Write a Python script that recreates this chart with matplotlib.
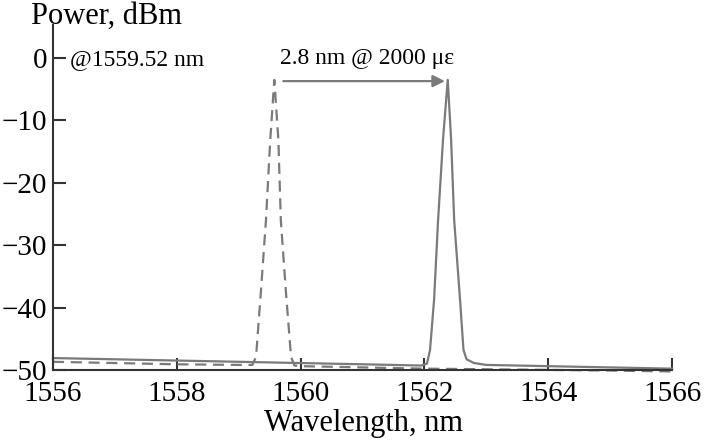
import matplotlib.pyplot as plt

# Опорный спектр (без деформации), пик @1559.52 нм
wl_ref = [1556.0, 1557.0, 1558.0, 1559.0, 1559.22, 1559.28, 1559.36, 1559.44, 1559.51,
          1559.575, 1559.64, 1559.68, 1559.76, 1559.845, 1559.9, 1560.0, 1561.0, 1562.0,
          1563.0, 1564.0, 1565.0, 1566.0]
p_ref = [-48.7, -48.9, -49.1, -49.2, -49.2, -47.9, -37.2, -26.0, -13.0,
         -3.5, -13.0, -26.0, -37.2, -47.9, -49.3, -49.4, -49.6, -49.8,
         -49.9, -50.0, -50.1, -50.25]

# Спектр при деформации 2000 мкε
wl_strain = [1556.0, 1557.0, 1558.0, 1559.0, 1560.0, 1561.0, 1561.95, 1562.04, 1562.09,
             1562.155, 1562.22, 1562.30, 1562.376, 1562.43, 1562.48, 1562.575, 1562.63,
             1562.68, 1562.8, 1563.0, 1564.0, 1565.0, 1566.0]
p_strain = [-48.1, -48.3, -48.5, -48.7, -48.9, -49.1, -49.3, -49.0, -46.8,
            -38.8, -26.0, -13.0, -3.5, -13.0, -26.0, -38.8, -46.8,
            -48.3, -48.9, -49.2, -49.4, -49.6, -49.8]

x_ticks = [1556, 1558, 1560, 1562, 1564, 1566]
y_ticks = [0, -10, -20, -30, -40, -50]

plt.rcParams["font.family"] = ["Liberation Serif", "DejaVu Serif"]

fig = plt.figure(figsize=(7.12, 4.43), dpi=100)
ax = fig.add_axes([0.0744, 0.165, 0.8696, 0.7786])

line_color = "#7a7a7a"
ax.plot(wl_ref, p_ref, color=line_color, lw=1.6, linestyle=(0, (5, 3)), clip_on=False)
ax.plot(wl_strain, p_strain, color=line_color, lw=1.6, clip_on=False)

ax.annotate("", xy=(1562.33, -3.7), xytext=(1559.72, -3.7),
            arrowprops=dict(arrowstyle="-|>", color=line_color, lw=1.6,
                            mutation_scale=18, shrinkA=0, shrinkB=0))
ax.text(1561.07, -1.0, "2.8 nm @ 2000 με", fontsize=17, ha="center", va="baseline")
ax.text(1556.27, -1.1, "@1559.52 nm", fontsize=17, ha="left", va="baseline")

ax.set_xlim(1556, 1566)
ax.set_ylim(-50, 5.3)
ax.set_xticks(x_ticks)
ax.set_yticks(y_ticks)
ax.set_yticklabels(["0", "\u221210", "\u221220", "\u221230", "\u221240", "\u221250"])

for side in ["top", "right"]:
    ax.spines[side].set_visible(False)
for side in ["left", "bottom"]:
    ax.spines[side].set_color("#333333")
    ax.spines[side].set_linewidth(1.5)

ax.tick_params(direction="in", length=9, width=1.5, color="#333333",
               labelsize=21, pad=4)
ax.tick_params(axis="x", pad=8)

fig.text(0.043, 0.995, "Power, dBm", fontsize=22, ha="left", va="top")
fig.text(0.511, 0.043, "Wavelength, nm", fontsize=22, ha="center", va="center")

fig.savefig("out.png", dpi=100)
